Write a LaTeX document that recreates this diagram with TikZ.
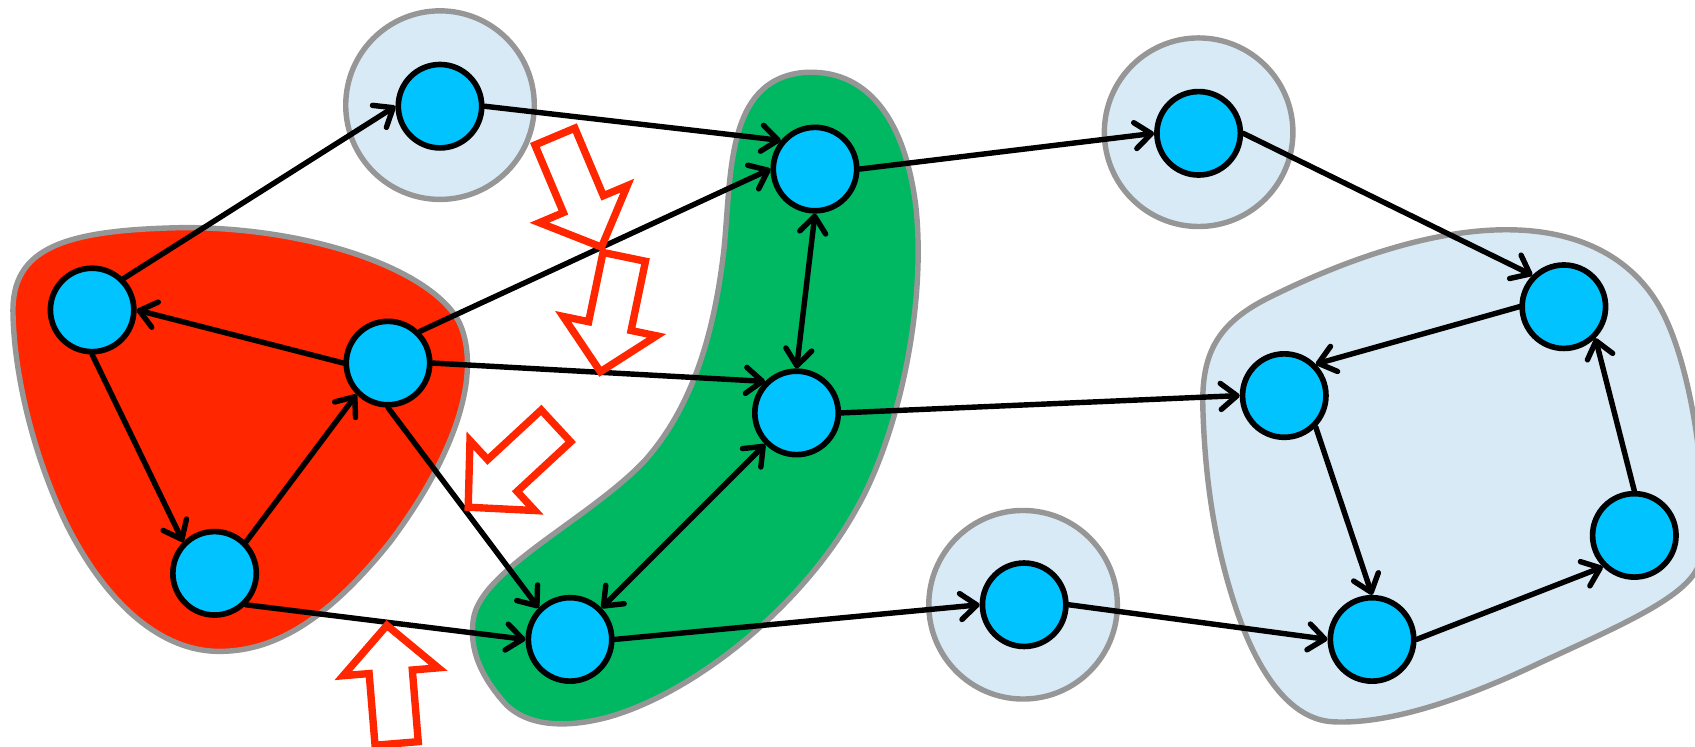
\documentclass[tikz,border=0pt]{standalone}
\usetikzlibrary{arrows.meta,calc}
\definecolor{nodecyan}{RGB}{0,195,255}
\definecolor{blobred}{RGB}{255,38,0}
\definecolor{blobgreen}{RGB}{0,184,98}
\definecolor{haloblue}{RGB}{216,234,246}
\definecolor{bordergray}{RGB}{150,150,150}
\definecolor{arrowred}{RGB}{255,38,0}
\newcommand\redarr[2]{%
  \coordinate (rab) at ($(#2)!43pt!(#1)$);
  \draw[redarrow] ($(#1)!20pt!90:(#2)$) -- ($(rab)!20pt!90:(#2)$) -- ($(rab)!44pt!90:(#2)$) -- (#2)
    -- ($(rab)!44pt!-90:(#2)$) -- ($(rab)!20pt!-90:(#2)$) -- ($(#1)!20pt!-90:(#2)$) -- cycle;}
\begin{document}
\begin{tikzpicture}[x=1pt,y=-1pt,
  vert/.style={circle, draw=black, line width=5.2pt, fill=nodecyan, minimum size=77pt, inner sep=0pt},
  halo/.style={circle, draw=bordergray, line width=5pt, fill=haloblue, minimum size=174pt, inner sep=0pt},
  blob/.style={draw=bordergray, line width=5pt},
  link/.style={line width=5pt, line cap=round, -{Straight Barb[length=15pt,width=24pt,round]}},
  dlink/.style={line width=5pt, line cap=round, {Straight Barb[length=15pt,width=24pt,round]}-{Straight Barb[length=15pt,width=24pt,round]}},
  redarrow/.style={draw=arrowred, line width=6.8pt, fill=white, line join=miter}]
\useasboundingbox (0,0) rectangle (1564,689);
% blobs
\draw[blob, fill=blobred] (12,290) .. controls (10,228) and (60,212) .. (170,210)
  .. controls (290,210) and (400,250) .. (424,298)
  .. controls (445,345) and (420,420) .. (360,500)
  .. controls (300,575) and (250,602) .. (200,601)
  .. controls (150,600) and (100,560) .. (62,485)
  .. controls (28,415) and (13,340) .. (12,290) -- cycle;
\draw[blob, fill=blobgreen] (740,67) .. controls (800,62) and (835,110) .. (845,190)
  .. controls (855,280) and (830,400) .. (790,470)
  .. controls (740,560) and (640,640) .. (560,662)
  .. controls (510,675) and (480,665) .. (465,648)
  .. controls (445,625) and (432,600) .. (437,570)
  .. controls (445,525) and (545,478) .. (595,425)
  .. controls (642,372) and (660,300) .. (668,230)
  .. controls (675,160) and (670,75) .. (740,67) -- cycle;
\draw[blob, fill=haloblue] (1110,380) .. controls (1108,330) and (1120,300) .. (1170,275)
  .. controls (1240,240) and (1320,212) .. (1390,212)
  .. controls (1460,212) and (1510,240) .. (1535,290)
  .. controls (1565,350) and (1578,470) .. (1568,520)
  .. controls (1558,550) and (1500,575) .. (1420,612)
  .. controls (1330,655) and (1270,668) .. (1230,666)
  .. controls (1190,664) and (1160,620) .. (1140,560)
  .. controls (1120,500) and (1112,440) .. (1110,380) -- cycle;
% halos
\node[halo] (hA) at (406,97) {};
\node[halo] (hC) at (1106,122) {};
\node[halo] (hI) at (944,558) {};
% vertices
\node[vert] (nA) at (406,98) {};
\node[vert] (nB) at (752,156) {};
\node[vert] (nC) at (1106,123) {};
\node[vert] (nD) at (85,286) {};
\node[vert] (nE) at (358,335) {};
\node[vert] (nF) at (198,529) {};
\node[vert] (nG) at (735,381) {};
\node[vert] (nH) at (526,590) {};
\node[vert] (nI) at (945,558) {};
\node[vert] (nJ) at (1185,365) {};
\node[vert] (nK) at (1443,283) {};
\node[vert] (nL) at (1508,494) {};
\node[vert] (nM) at (1266,590) {};
% edges
\draw[link] (nD.45) -- (nA.west);
\draw[link] (nA.east) -- (nB.140);
\draw[link] (nE.45) -- (nB.west);
\draw[dlink] (nB.south) -- (nG.north);
\draw[link] (nB.east) -- (nC.west);
\draw[link] (nC.east) -- (nK.135);
\draw[link] (nE.west) -- (nD.east);
\draw[link] (nD.south) -- (nF.135);
\draw[link] (nF.45) -- (nE.225);
\draw[link] (nE.east) -- (nG.135);
\draw[link] (nE.south) -- (nH.135);
\draw[link] (nF.-45) -- (nH.west);
\draw[dlink] (nG.225) -- (nH.45);
\draw[link] (nG.east) -- (nJ.west);
\draw[link] (nH.east) -- (nI.west);
\draw[link] (nI.east) -- (nM.west);
\draw[link] (nK.west) -- (nJ.45);
\draw[link] (nJ.-45) -- (nM.north);
\draw[link] (nM.east) -- (nL.225);
\draw[link] (nL.north) -- (nK.-45);
% red block arrows
\coordinate (r1t) at (512,126); \coordinate (r1h) at (555,228);
\coordinate (r2t) at (576,237); \coordinate (r2h) at (554,343);
\coordinate (r3t) at (513,393); \coordinate (r3h) at (432,468);
\coordinate (r4t) at (366,686); \coordinate (r4h) at (357,577);
\redarr{r1t}{r1h}
\redarr{r2t}{r2h}
\redarr{r3t}{r3h}
\redarr{r4t}{r4h}
\end{tikzpicture}
\end{document}
